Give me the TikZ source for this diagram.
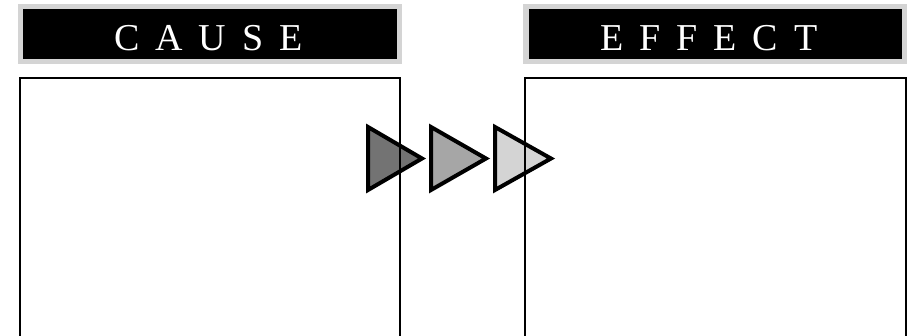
\documentclass[tikz,border=0pt]{standalone}
\usepackage{fontspec}
\setmainfont{Liberation Serif}
\begin{document}
\begin{tikzpicture}[x=1pt,y=-1pt,
  frame/.style={fill=black!17},
  banner/.style={fill=black},
  title/.style={text=white,font=\fontsize{38}{38}\selectfont\addfontfeature{LetterSpace=42},inner sep=0pt,anchor=base west},
  panel/.style={draw=black,line width=2.6pt},
  chevron/.style={draw=black,line width=4pt,line join=miter}]
  \useasboundingbox (0,0) rectangle (913,335);
  % title banners
  \fill[frame] (18,4) rectangle (402,64);
  \fill[banner] (23,9) rectangle (397,59);
  \fill[frame] (523,4) rectangle (907,64);
  \fill[banner] (529,9) rectangle (902,59);
  \node[title] (cause) at (114,50) {CAUSE};
  \node[title] (effect) at (600,50) {EFFECT};
  % arrows between the panels
  \draw[chevron,fill=black!55] (368,127) -- (368,190) -- (422,158.5) -- cycle;
  \draw[chevron,fill=black!35] (431,127) -- (431,190) -- (486,158.5) -- cycle;
  \draw[chevron,fill=black!17] (495,127) -- (495,190) -- (551,158.5) -- cycle;
  % open panels
  \draw[panel] (20,345) -- (20,78) -- (400,78) -- (400,345);
  \draw[panel] (525,345) -- (525,78) -- (906,78) -- (906,345);
\end{tikzpicture}
\end{document}
